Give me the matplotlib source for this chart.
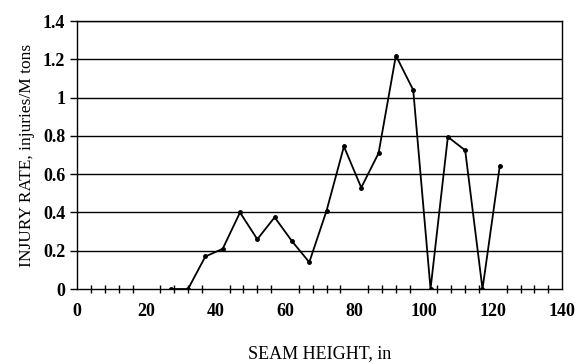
import numpy as np
import matplotlib.pyplot as plt
from matplotlib.ticker import MultipleLocator

# seam height (in) vs injury rate (injuries/M tons)
seam_height = [27, 32, 37, 42, 47, 52, 57, 62, 67, 72, 77, 82, 87, 92, 97, 102, 107, 112, 117, 122]
injury_rate = [0.0, 0.0, 0.17, 0.21, 0.40, 0.26, 0.375, 0.25, 0.14, 0.41, 0.745, 0.53, 0.71, 1.22, 1.04, 0.0, 0.795, 0.725, 0.0, 0.645]
y_ticks = [0, 0.2, 0.4, 0.6, 0.8, 1.0, 1.2, 1.4]
y_labels = ['0', '0.2', '0.4', '0.6', '0.8', '1', '1.2', '1.4']

plt.rcParams['font.family'] = ['Liberation Serif', 'DejaVu Serif']

fig = plt.figure(figsize=(5.76, 3.64), dpi=100)
ax = fig.add_axes([0.134, 0.206, 0.842, 0.736])

for y in y_ticks[1:]:
    ax.axhline(y, color='black', lw=1.0, zorder=1)

ax.plot(seam_height, injury_rate, color='black', lw=1.3, marker='o', ms=2.5, zorder=3)

ax.set_xlim(0, 140)
ax.set_ylim(0, 1.4)
ax.xaxis.set_major_locator(MultipleLocator(20))
ax.xaxis.set_minor_locator(MultipleLocator(4))
ax.set_yticks(y_ticks)
ax.set_yticklabels(y_labels)
ax.tick_params(axis='x', which='major', length=0, pad=10, labelsize=13)
ax.tick_params(axis='x', which='minor', direction='inout', length=6, width=1)
ax.tick_params(axis='y', direction='out', length=5, width=1, labelsize=13)
for lab in ax.get_xticklabels() + ax.get_yticklabels():
    lab.set_fontweight('bold')

for s in ax.spines.values():
    s.set_linewidth(1.0)

ax.set_xlabel('SEAM HEIGHT, in', fontsize=13, labelpad=18)
ax.set_ylabel('INJURY RATE, injuries/M tons', fontsize=12.5, labelpad=6)

fig.savefig('out.png', dpi=100)
